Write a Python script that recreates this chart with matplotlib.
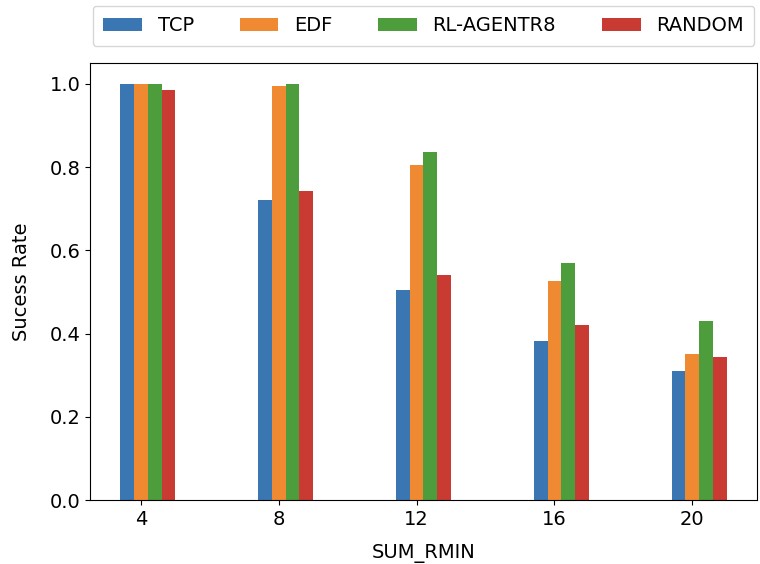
import numpy as np
import matplotlib
matplotlib.use("Agg")
import matplotlib.pyplot as plt

sum_rmin = [4, 8, 12, 16, 20]
tcp = [1.0, 0.72, 0.504, 0.381, 0.309]
edf = [1.0, 0.994, 0.806, 0.527, 0.352]
rl_agent = [1.0, 1.0, 0.835, 0.570, 0.430]
random_sel = [0.985, 0.743, 0.540, 0.420, 0.344]

plt.rcParams['font.size'] = 14

x = np.array(sum_rmin)
w = 0.4

fig = plt.figure(figsize=(7.6, 5.64), dpi=100)
ax = fig.add_axes([90/760, 64/564, 667/760, 437/564])

ax.bar(x - 0.4, tcp, w, label='TCP', color='#3a77b2')
ax.bar(x, edf, w, label='EDF', color='#ef8a32')
ax.bar(x + 0.4, rl_agent, w, label='RL-AGENTR8', color='#4e9d3c')
ax.bar(x + 0.8, random_sel, w, label='RANDOM', color='#c93a33')

ax.set_xticks(sum_rmin)
ax.set_xlabel('SUM_RMIN', labelpad=11)
ax.set_ylabel('Sucess Rate', labelpad=13)

ax.legend(loc='lower center', bbox_to_anchor=(0.5, 1.039), ncol=4,
          borderaxespad=0, columnspacing=2.35, borderpad=0.55)

fig.savefig('out.png', dpi=100)
